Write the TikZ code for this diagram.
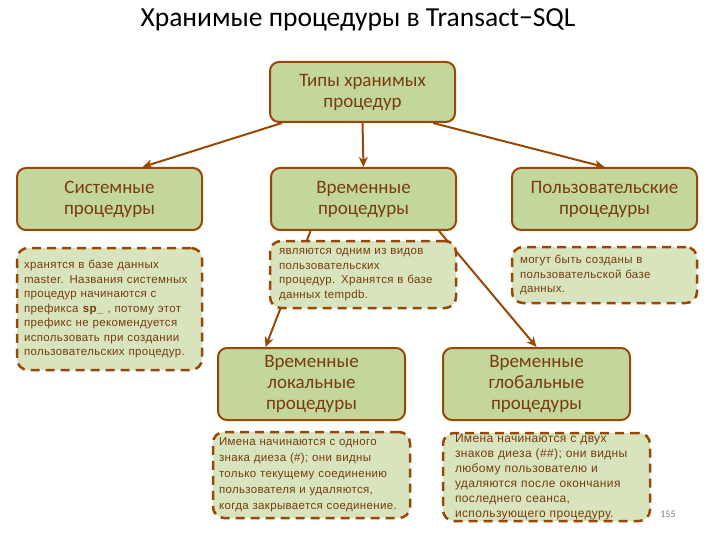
\documentclass[tikz,border=0pt]{standalone}
\usepackage{fontspec}
\setmainfont{Carlito}
\newfontfamily\notefont[LetterSpace=3]{Liberation Sans}
\usetikzlibrary{arrows.meta}
\definecolor{boxfill}{RGB}{195,214,155}
\definecolor{notefill}{RGB}{215,228,189}
\definecolor{brownline}{RGB}{152,72,6}
\definecolor{browntext}{RGB}{120,60,15}
\begin{document}
\begin{tikzpicture}[x=1pt,y=-1pt,
    kind/.style={draw=brownline,fill=boxfill,line width=2pt,rounded corners=9pt,
        minimum width=185pt,minimum height=62pt,align=center,text=browntext,
        font=\fontsize{19}{21}\selectfont},
    note/.style={draw=brownline,fill=notefill,line width=2.5pt,dash pattern=on 9pt off 6pt,
        rounded corners=11pt,align=left,text=browntext,inner ysep=2pt,inner xsep=7pt,
        font=\notefont\fontsize{11.5}{14.5}\selectfont},
    arr/.style={-{Stealth[length=10pt,width=9pt,inset=3pt]},draw=brownline,line width=2pt}]
    \useasboundingbox (0,0) rectangle (720,540);
    \node[font=\fontsize{27.5}{32}\selectfont] (title) at (358,20) {Хранимые процедуры в Transact−SQL};
    \node[kind,minimum height=60pt] (types) at (362.5,92) {Типы хранимых\\процедур};
    \node[kind] (sys) at (109.5,199) {Системные\\процедуры};
    \node[kind] (tmp) at (363.5,199) {Временные\\процедуры};
    \node[kind] (user) at (604.5,199) {Пользовательские\\процедуры};
    \node[kind,minimum width=187pt,minimum height=72pt] (loc) at (311.5,384) {Временные\\локальные\\процедуры};
    \node[kind,minimum width=187pt,minimum height=72pt] (glob) at (536.5,384) {Временные\\глобальные\\процедуры};
    \draw[arr] ([xshift=13pt]types.south west) -- ([xshift=33pt]sys.north);
    \draw[arr] (types.south) -- (tmp.north);
    \draw[arr] ([xshift=-23pt]types.south east) -- (user.north);
    \draw[arr] ([xshift=-53pt]tmp.south) -- ([xshift=-46pt]loc.north);
    \draw[arr] ([xshift=-18pt]tmp.south east) -- (glob.north);
    \node[note,text width=171pt,minimum height=122pt] (sysnote) at (109.5,309)
        {хранятся в базе данных\\master. Названия системных\\процедур начинаются с\\префикса \textbf{sp\_} , потому этот\\префикс не рекомендуется\\использовать при создании\\пользовательских процедур.};
    \node[note,inner xsep=9pt,text width=168pt,minimum height=67pt] (tmpnote) at (363,274.5)
        {являются одним из видов\\пользовательских\\процедур. Хранятся в базе\\данных tempdb.};
    \node[note,inner xsep=8pt,text width=169pt,minimum height=56pt] (usernote) at (604.5,275)
        {могут быть созданы в\\пользовательской базе\\данных.};
    \node[note,inner xsep=6pt,text width=185pt,minimum height=86pt,font=\notefont\fontsize{11.5}{16}\selectfont] (locnote) at (311.5,475)
        {Имена начинаются с одного\\знака диеза (\#); они видны\\только текущему соединению\\пользователя и удаляются,\\когда закрывается соединение.};
    \node[note,inner xsep=12pt,inner ysep=0pt,text width=183pt,minimum height=88pt,font=\notefont\fontsize{12}{15}\selectfont] (globnote) at (546.5,477)
        {Имена начинаются с двух\\знаков диеза (\#\#); они видны\\любому пользователю и\\удаляются после окончания\\последнего сеанса,\\использующего процедуру.};
    \node[text=gray,font=\fontsize{10}{12}\selectfont] (page) at (668,514) {155};
\end{tikzpicture}
\end{document}
